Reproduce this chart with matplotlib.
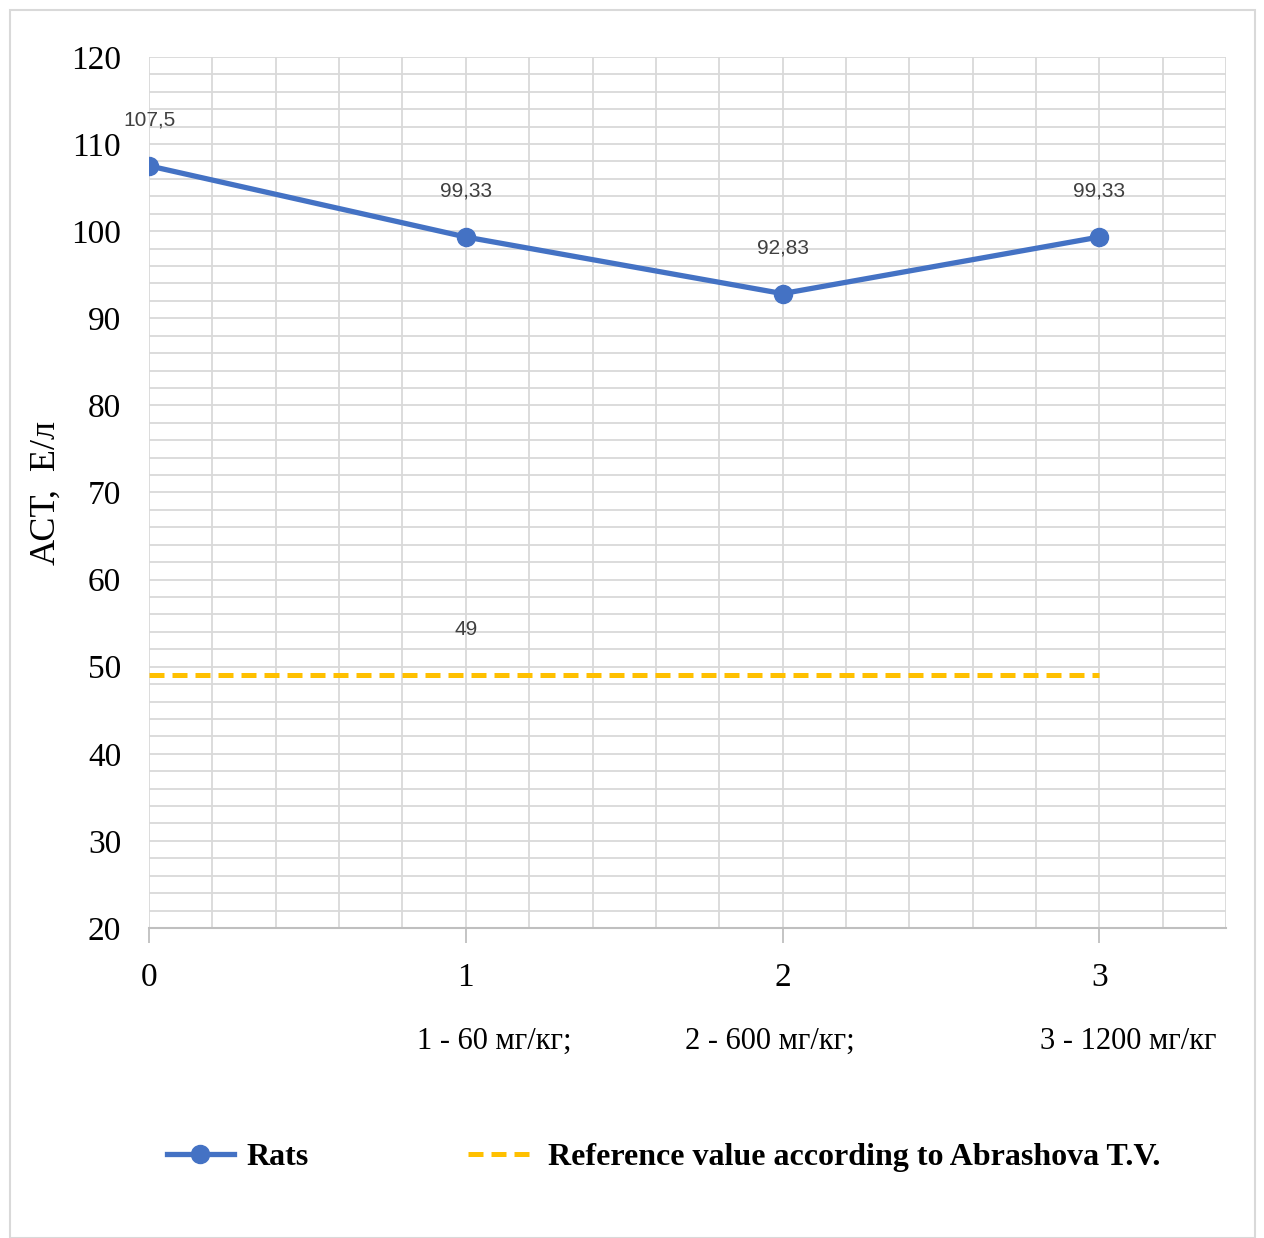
import matplotlib
matplotlib.use("Agg")
import matplotlib.pyplot as plt
from matplotlib.patches import Rectangle
from matplotlib.ticker import MultipleLocator

# data
doses = [0, 1, 2, 3]
rats = [107.5, 99.33, 92.83, 99.33]
rats_labels = ["107,5", "99,33", "92,83", "99,33"]
reference = [49, 49, 49, 49]
reference_label = "49"
dose_notes = ["1 - 60 мг/кг;", "2 - 600 мг/кг;", "3 - 1200 мг/кг"]
note_x = [1.09, 1.96, 3.09]

BLUE = "#4472C4"
GOLD = "#FFC000"
GRID = "#D9D9D9"
SERIF = ["Liberation Serif", "DejaVu Serif"]
NARROW = ["Liberation Sans Narrow", "Liberation Sans", "DejaVu Sans"]

fig = plt.figure(figsize=(12.64, 12.38), dpi=100)
fig.patches.append(Rectangle((0.008, 0.0), 0.985, 0.992, transform=fig.transFigure,
                             fill=False, edgecolor="#D9D9D9", linewidth=1.5))
ax = fig.add_axes([0.1179, 0.2504, 0.8521, 0.7036])

ax.plot(doses, rats, color=BLUE, linewidth=3.8, marker="o", markersize=13,
        label="Rats", zorder=4)
ax.plot(doses, reference, color=GOLD, linewidth=3.6, linestyle=(0, (3.0, 1.6)),
        label="Reference value according to Abrashova T.V.", zorder=3)

for x, y, s in zip(doses, rats, rats_labels):
    ax.annotate(s, (x, y), xytext=(0, 26), textcoords="offset points",
                ha="center", va="bottom", fontsize=15, color="#404040", family=NARROW)
ax.annotate(reference_label, (1, reference[1]), xytext=(0, 26), textcoords="offset points",
            ha="center", va="bottom", fontsize=15, color="#404040", family=NARROW)

ax.set_xlim(0, 3.4)
ax.set_ylim(20, 120)
ax.xaxis.set_major_locator(MultipleLocator(1))
ax.xaxis.set_minor_locator(MultipleLocator(0.2))
ax.yaxis.set_major_locator(MultipleLocator(10))
ax.yaxis.set_minor_locator(MultipleLocator(2))
ax.grid(which="both", color=GRID, linewidth=1.3)
ax.set_axisbelow(True)
for side in ["left", "top", "right"]:
    ax.spines[side].set_visible(False)
ax.spines["bottom"].set_color("#BFBFBF")
ax.spines["bottom"].set_linewidth(1.5)

ax.tick_params(axis="x", which="major", length=11, width=1.3, color="#BFBFBF",
               pad=14, labelsize=24)
ax.tick_params(axis="x", which="minor", length=0)
ax.tick_params(axis="y", which="both", length=0, pad=20, labelsize=24)
for lab in ax.get_xticklabels() + ax.get_yticklabels():
    lab.set_family(SERIF)

ax.set_ylabel("АСТ,  Е/л", fontsize=26, family=SERIF, labelpad=6)

for x, s in zip(note_x, dose_notes):
    ax.text(x, -0.13, s, transform=ax.get_xaxis_transform(), ha="center", va="center",
            fontsize=22, family=SERIF)

leg = fig.legend(loc="center", bbox_to_anchor=(0.525, 0.065), ncol=2, frameon=False,
                 handlelength=2.1, columnspacing=5.0, handletextpad=0.4,
                 prop={"family": SERIF, "size": 23, "weight": "bold"})

fig.savefig("out.png", dpi=100)
